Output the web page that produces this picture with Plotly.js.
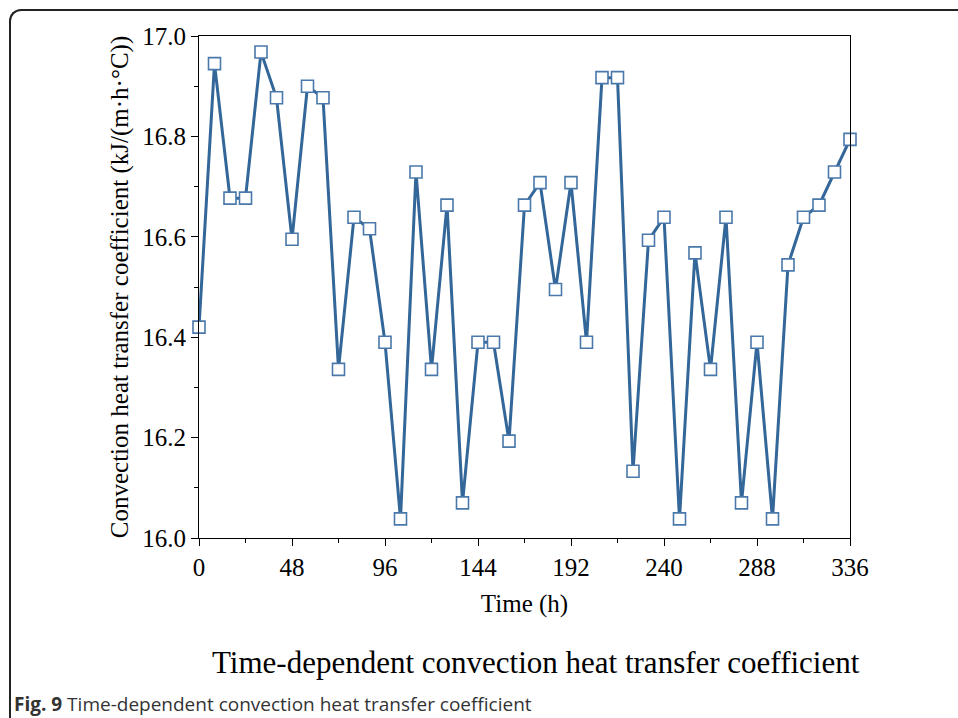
<!DOCTYPE html>
<html>
<head>
<meta charset="utf-8">
<script src="https://cdn.plot.ly/plotly-3.0.1.min.js"></script>
<style>
html,body{margin:0;padding:0;background:#fff;}
#wrap{position:relative;width:958px;height:718px;overflow:hidden;}
#frame{position:absolute;left:9px;top:9px;width:1000px;height:800px;border-left:2px solid #222;border-top:2px solid #222;border-top-left-radius:12px;pointer-events:none;}
#chart{position:absolute;left:0;top:0;width:958px;height:718px;}
</style>
</head>
<body>
<div id="wrap">
<div id="chart"></div>
<div id="frame"></div>
</div>
<script>
const hours = [0,8,16,24,32,40,48,56,64,72,80,88,96,104,112,120,128,136,144,152,160,168,176,184,192,200,208,216,224,232,240,248,256,264,272,280,288,296,304,312,320,328,336];
const coefficient = [16.420,16.945,16.677,16.677,16.968,16.877,16.595,16.900,16.877,16.336,16.639,16.616,16.390,16.038,16.729,16.336,16.663,16.070,16.390,16.390,16.193,16.663,16.708,16.495,16.708,16.390,16.917,16.917,16.133,16.593,16.639,16.038,16.568,16.336,16.639,16.070,16.390,16.038,16.544,16.639,16.663,16.729,16.794];
const xTicks = [0,48,96,144,192,240,288,336];
const yTicks = [16.0,16.2,16.4,16.6,16.8,17.0];
const xTitle = 'Time (h)';
const yTitle = 'Convection heat transfer coefficient (kJ/(m·h·°C))';
const chartTitle = 'Time-dependent convection heat transfer coefficient';
const figLabel = 'Fig. 9';
const figCaption = 'Time-dependent convection heat transfer coefficient';

const serif = 'Liberation Serif, Times New Roman, serif';
const trace = {
  x: hours, y: coefficient, type: 'scatter', mode: 'lines+markers',
  line: {color: '#336699', width: 3},
  marker: {symbol: 'square', size: 12, color: '#ffffff', line: {color: '#4a78aa', width: 1.6}},
  cliponaxis: false, hoverinfo: 'none'
};
const layout = {
  width: 958, height: 718,
  margin: {l: 199, r: 108, t: 36, b: 180},
  paper_bgcolor: '#fff', plot_bgcolor: '#fff',
  showlegend: false,
  font: {family: serif, color: '#000'},
  xaxis: {
    range: [0, 336], tickvals: xTicks, ticktext: xTicks.map(String),
    ticks: 'outside', ticklen: 7, tickwidth: 1, tickcolor: '#000',
    showline: true, linecolor: '#000', linewidth: 1, mirror: true,
    showgrid: false, zeroline: false,
    tickfont: {family: serif, size: 25, color: '#000'},
    minor: {dtick: 24, tick0: 0, ticks: 'outside', ticklen: 4, tickcolor: '#000', showgrid: false},
    title: {text: xTitle, font: {family: serif, size: 25, color: '#000'}, standoff: 14}
  },
  yaxis: {
    range: [16, 17], tickvals: yTicks, ticktext: yTicks.map(v => v.toFixed(1)),
    ticks: 'outside', ticklen: 7, tickwidth: 1, tickcolor: '#000',
    showline: true, linecolor: '#000', linewidth: 1, mirror: true,
    showgrid: false, zeroline: false,
    tickfont: {family: serif, size: 25, color: '#000'},
    minor: {dtick: 0.1, tick0: 16, ticks: 'outside', ticklen: 4, tickcolor: '#000', showgrid: false},
    title: {text: yTitle, font: {family: serif, size: 25, color: '#000'}, standoff: 6}
  },
  annotations: [
    {text: chartTitle, xref: 'paper', yref: 'paper', x: (536-199)/651, y: (538-662)/502,
     xanchor: 'center', yanchor: 'middle', showarrow: false,
     font: {family: serif, size: 31, color: '#000'}},
    {text: '<b>' + figLabel + '</b> ' + figCaption, xref: 'paper', yref: 'paper', x: (12-199)/651, y: (538-704)/502,
     xanchor: 'left', yanchor: 'middle', showarrow: false,
     font: {family: 'Open Sans, Noto Sans, sans-serif', size: 19, color: '#333'}}
  ]
};
Plotly.newPlot('chart', [trace], layout, {staticPlot: true, displayModeBar: false});
</script>
</body>
</html>
